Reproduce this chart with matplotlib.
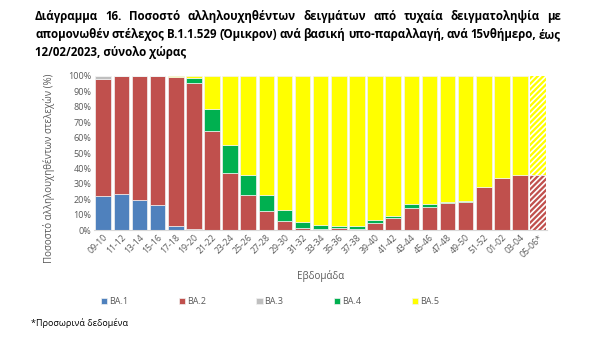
import matplotlib
matplotlib.use("Agg")
import matplotlib.pyplot as plt
import numpy as np

weeks = ["09-10", "11-12", "13-14", "15-16", "17-18", "19-20", "21-22", "23-24", "25-26",
         "27-28", "29-30", "31-32", "33-34", "35-36", "37-38", "39-40", "41-42", "43-44",
         "45-46", "47-48", "49-50", "51-52", "01-02", "03-04", "05-06*"]
ba1 = [22.0, 23.2, 19.5, 16.0, 2.6, 0.6, 0, 0, 0, 0, 0, 0, 0, 0, 0, 0, 0, 0, 0, 0, 0, 0, 0, 0, 0]
ba2 = [76.0, 76.8, 80.5, 84.0, 96.5, 94.6, 64.5, 37.2, 22.7, 12.3, 6.1, 1.7, 0.5, 1.1, 1.0,
       4.5, 7.8, 14.5, 14.7, 17.3, 18.4, 27.7, 33.8, 35.5, 35.9]
ba3 = [2.0, 0, 0, 0, 0, 0, 0, 0, 0, 0, 0, 0, 0, 0, 0, 0, 0, 0, 0, 0, 0, 0, 0, 0, 0]
ba4 = [0, 0, 0, 0, 0, 3.7, 14.1, 17.8, 13.0, 10.2, 6.9, 3.9, 3.0, 1.3, 1.8,
       2.0, 1.7, 2.4, 2.2, 0.7, 0.4, 0.6, 0, 0, 0]
series_names = ["BA.1", "BA.2", "BA.3", "BA.4", "BA.5"]
colors = ["#4F81BD", "#C0504D", "#BFBFBF", "#00B050", "#FFFF00"]

ba5 = [100 - a - b - c - d for a, b, c, d in zip(ba1, ba2, ba3, ba4)]
data = [ba1, ba2, ba3, ba4, ba5]

plt.rcParams['font.family'] = ['Open Sans', 'DejaVu Sans']
plt.rcParams['hatch.linewidth'] = 1.2

W, H = 600, 353
fig = plt.figure(figsize=(W / 100, H / 100), dpi=100)
ax = fig.add_axes([0.157, 0.348, 0.755, 0.437])

x = np.arange(len(weeks))
bottom = np.zeros(len(weeks))
n = len(weeks)
for name, vals, col in zip(series_names, data, colors):
    vals = np.array(vals, dtype=float)
    bars = ax.bar(x, vals, bottom=bottom, width=0.86, color=col, edgecolor="#F2F2F2",
                  linewidth=0.5, label=name)
    last = bars[-1]
    if vals[-1] > 0:
        last.set_hatch("//////")
        last.set_edgecolor("white")
        last.set_linewidth(0)
    bottom += vals

ax.set_xlim(-0.5, n - 0.5)
ax.set_ylim(0, 100)
ax.set_yticks(np.arange(0, 101, 10))
ax.set_yticklabels([f"{v}%" for v in range(0, 101, 10)], fontsize=6.5, color="#595959")
ax.set_xticks(x)
ax.set_xticklabels(weeks, rotation=45, ha="right", rotation_mode="anchor",
                   fontsize=6.3, color="#595959")
ax.tick_params(axis="both", length=0, pad=2)
for s in ["top", "right", "left"]:
    ax.spines[s].set_visible(False)
ax.spines["bottom"].set_color("#D9D9D9")
ax.set_ylabel("Ποσοστό αλληλουχηθέντων στελεχών (%)", fontsize=7, color="#595959")
ax.yaxis.set_label_coords(-0.086, 0.40)
ax.set_xlabel("Εβδομάδα", fontsize=7, color="#595959", labelpad=8)

handles, labels = ax.get_legend_handles_labels()
fig.legend(handles, labels, ncol=5, loc="center", bbox_to_anchor=(0.45, 0.145),
           frameon=False, fontsize=6.5, handlelength=0.7, handleheight=0.7,
           handletextpad=0.2, columnspacing=5.6, labelcolor="#595959")

title_lines = ["Διάγραμμα 16. Ποσοστό αλληλουχηθέντων δειγμάτων από τυχαία δειγματοληψία με",
               "απομονωθέν στέλεχος B.1.1.529 (Όμικρον) ανά βασική υπο-παραλλαγή, ανά 15νθήμερο, έως",
               "12/02/2023, σύνολο χώρας"]
ys = [0.952, 0.902, 0.852]
x0_px, x1_px = 35, 561
renderer = fig.canvas.get_renderer()
tkw = dict(fontsize=8.3, fontweight="bold", va="center", ha="left")
for i, (line, yy) in enumerate(zip(title_lines, ys)):
    if i == len(title_lines) - 1:
        fig.text(x0_px / W, yy, line, **tkw)
        continue
    words = line.split(" ")
    objs = [fig.text(0, yy, w_, **tkw) for w_ in words]
    widths = [o.get_window_extent(renderer).width for o in objs]
    gap = (x1_px - x0_px - sum(widths)) / (len(words) - 1)
    cur = x0_px
    for o, wd in zip(objs, widths):
        o.set_x(cur / W)
        cur += wd + gap

fig.text(0.052, 0.085, "*Προσωρινά δεδομένα", fontsize=6.5, ha="left", va="center")

fig.savefig("out.png", dpi=100)
